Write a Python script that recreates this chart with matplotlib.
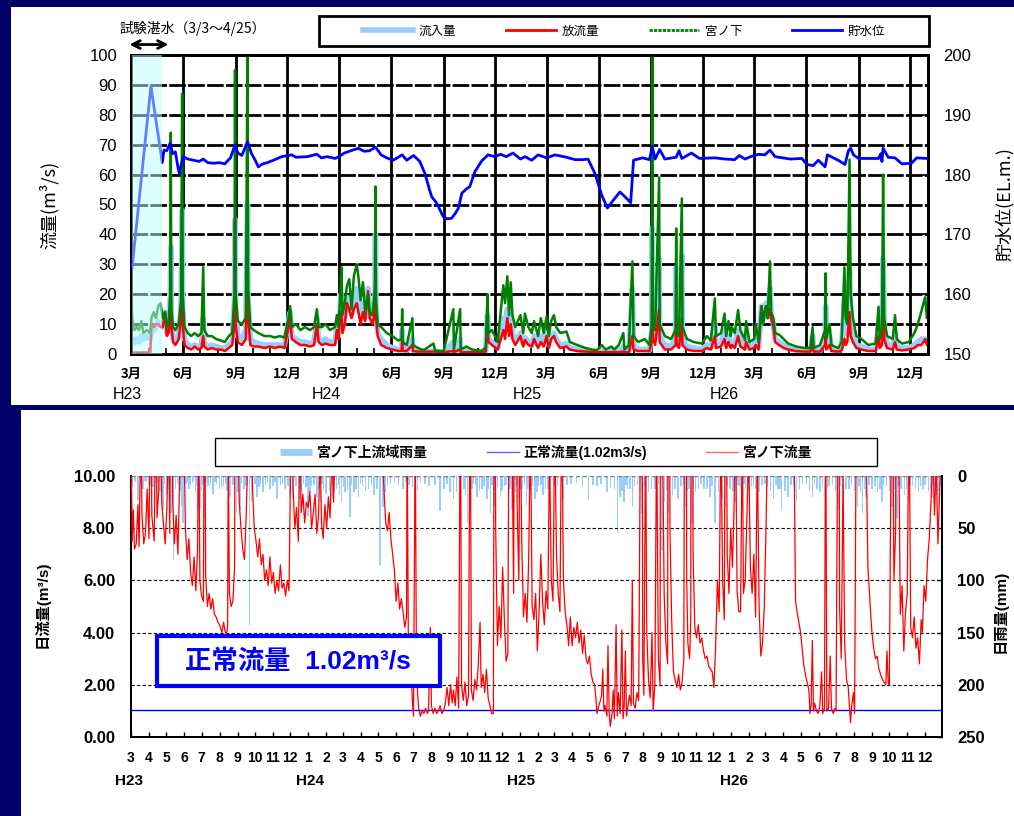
import numpy as np
import matplotlib
matplotlib.use("Agg")
import matplotlib.pyplot as plt
from matplotlib.lines import Line2D
from matplotlib.patches import Rectangle

plt.rcParams['font.family'] = ['Liberation Sans', 'Noto Sans CJK JP', 'DejaVu Sans']
JP = ['Noto Sans CJK JP', 'DejaVu Sans']
NARROW = ['Liberation Sans Narrow', 'Liberation Sans', 'DejaVu Sans']

# ---------------------------------------------------------------- data
# day numbers count from 2011-03-01 (H23)
BASE = np.datetime64('2011-03-01')

# reservoir flows (m3/s): 宮ノ下 gauge, 放流量 (release), 流入量 (inflow)
flow_day = [
    0, 2, 6, 10, 14, 18, 22, 28, 34, 36,
    40, 44, 48, 52, 56, 60, 63, 66, 69, 70,
    71, 74, 78, 84, 88, 90, 91, 94, 100, 106,
    112, 118, 124, 127, 129, 135, 142, 150, 158, 165,
    172, 178, 182, 183, 184, 188, 195, 202, 205, 206,
    210, 216, 224, 235, 245, 253, 262, 270, 277, 280,
    283, 290, 298, 306, 315, 322, 327, 330, 336, 342,
    350, 359,
    362, 365, 368, 370, 372, 376, 380, 384, 388, 392,
    397, 400, 404, 408, 412, 417, 420, 425, 429, 430,
    431, 434, 440, 450, 460, 470, 476, 477, 478, 485,
    495, 496, 505, 515, 532, 535, 550, 567, 568, 579,
    580, 590, 600, 615, 624, 627, 629, 635, 645, 655,
    658, 662, 665, 668, 671, 676, 685, 690,
    693, 699, 705, 709, 716, 721, 726, 731, 735, 739,
    744, 748, 755, 766, 772, 785, 800, 810, 820, 828,
    835, 845, 850, 858, 866, 868, 876, 882, 884, 892,
    904, 912, 916, 917, 918, 922, 929, 930, 939, 950,
    958, 959, 960, 964, 969, 970, 978, 990, 1004, 1013,
    1020, 1027, 1029, 1038, 1044, 1047, 1051, 1055,
    1057, 1062, 1068, 1072, 1080, 1082, 1088, 1096, 1099, 1104,
    1109, 1112, 1117, 1120, 1124, 1126, 1130, 1133, 1140, 1148,
    1156, 1170, 1185, 1195, 1199, 1201, 1212, 1221, 1222, 1223,
    1229, 1232, 1244, 1250, 1255, 1257, 1260, 1264, 1266, 1270,
    1276, 1285, 1297, 1310, 1315, 1317, 1321, 1323, 1325, 1330,
    1340, 1344, 1347, 1356, 1368, 1378, 1384, 1390, 1394, 1397,
    1400, 1402,
]
miyanoshita = [
    28, 12, 8, 9, 8, 11, 7, 8, 7, 12,
    14, 12, 16, 17, 12, 14, 9, 10, 20, 74,
    15, 9, 8, 10, 18, 87, 20, 9, 7, 6,
    7, 6, 7, 29, 8, 6, 6, 5, 4.5, 4,
    6, 7, 20, 95, 20, 11, 10, 12, 105, 22,
    9, 8, 7, 6, 6, 5.5, 6, 5.5, 12, 16,
    9, 10, 8, 9, 8, 9, 15, 9, 9, 10,
    8, 9,
    13, 9, 19, 29, 13, 17, 23, 25, 15, 26,
    30, 26, 18, 24, 14, 20, 14, 13, 22, 56,
    18, 10, 9, 7, 6, 4.5, 5, 15, 4, 3,
    12, 3, 2, 1.3, 3.5, 1.2, 1, 15, 1.5, 15,
    1.5, 2.5, 1.5, 1, 2, 20, 7, 8, 4, 23,
    17, 26, 13, 24, 13, 9, 13, 7,
    13.5, 9, 7, 11, 6, 12, 7, 12.5, 6, 11,
    13, 9, 7, 7.5, 4, 3, 2, 1.5, 1.3, 3,
    1.5, 2.5, 1.5, 3, 7, 1.5, 3, 31, 6, 4,
    5, 3, 10, 105, 12, 8, 59, 10, 6, 5,
    8, 42, 8, 6, 52, 9, 5, 4, 3.5, 6,
    4.5, 18.6, 6, 7, 13.5, 6, 11, 6,
    9, 7, 14.7, 8, 4.7, 11, 4, 5, 10, 4,
    16, 10, 16, 12, 31, 14, 12, 7, 6.5, 5,
    3.5, 2.5, 2, 2, 9, 2, 3, 8, 27, 5,
    10, 3, 2, 4, 29, 12, 10, 65, 20, 12,
    6, 5, 3, 3.5, 15.8, 5, 8, 60, 12, 6,
    5, 13, 5, 3.5, 4, 7, 10, 14, 17, 19,
    12, 13,
]
outflow = [
    0.5, 0.5, 0.5, 0.5, 0.5, 0.5, 0.5, 0.5, 0.5, 10,
    9, 10, 10, 9, 9, 14, 6, 7, 12, 20,
    9, 4, 3, 5, 12, 20, 10, 3, 2, 1.5,
    2.5, 1.5, 2, 6, 2.5, 1.5, 2, 1.5, 1.5, 1,
    2, 3, 10, 45, 10, 4, 3, 5, 40, 12,
    3, 2.5, 2.5, 2, 2.5, 2, 2.5, 2, 9, 12,
    5, 4, 3, 3, 2.5, 3, 10, 4, 3, 3.5,
    3, 3,
    8, 5, 14, 14, 7, 10, 17, 15, 12, 15,
    17, 14, 10, 14, 11, 21, 12, 10, 14, 34,
    12, 6, 3, 2, 1.5, 1, 1, 5, 1, 1,
    3, 1, 0.8, 0.8, 0.8, 0.8, 0.6, 1, 0.6, 1.5,
    0.6, 0.6, 0.6, 0.6, 0.8, 10, 4, 3, 1.5, 8,
    5, 12, 6, 10, 5, 3, 6, 2.5,
    4.7, 3, 2.5, 5, 2, 4, 2.5, 6, 2, 5,
    6, 4, 2, 2.5, 1.5, 1, 0.8, 0.7, 0.6, 0.6,
    0.6, 0.6, 0.6, 0.6, 0.8, 0.6, 0.6, 6, 1.5, 1,
    1, 1, 4, 18, 5, 3, 15, 4, 1.5, 1.5,
    3, 11, 3, 2, 12, 3, 1.5, 1, 1, 2,
    1.5, 6, 2, 2.5, 5, 2, 4, 2,
    3, 2, 6, 2.5, 1.5, 4, 1.5, 2, 3, 1.5,
    16, 12, 16, 12, 15, 12, 9, 4, 3, 2,
    1.5, 1, 0.8, 0.8, 3, 0.8, 0.8, 3, 6, 1.5,
    3, 1, 0.8, 1.2, 5, 3, 4, 14, 6, 4,
    2, 1.5, 1, 1, 6, 2, 3, 26, 5, 2,
    1.5, 4, 1.5, 1.2, 1.5, 2, 3, 3, 4, 5,
    3, 3.5,
]
inflow = [
    6, 5, 4, 5, 4, 6, 5, 6, 5, 9,
    8, 9, 11, 10, 9, 14, 7, 8, 18, 36,
    12, 5, 4, 6, 16, 48, 16, 5, 3, 2.5,
    3, 2.5, 3, 12, 3.5, 2.5, 3, 2.5, 2, 2,
    3, 4, 18, 45, 15, 6, 5, 8, 50, 18,
    5, 4, 3.5, 3, 3, 3, 3, 3, 11, 14,
    6, 5, 4, 4, 3.5, 4, 12, 5, 4, 5,
    4, 4,
    9, 6, 16, 20, 9, 12, 19, 18, 13, 20,
    22, 19, 13, 17, 12, 22, 13, 11, 18, 40,
    14, 7, 5, 3, 2, 1.5, 1.5, 8, 1.5, 1.2,
    5, 1.2, 1, 0.5, 1, 0.5, 0.4, 4, 0.5, 5,
    0.5, 1, 0.5, 0.4, 1, 13, 5, 4, 2, 12,
    8, 15, 8, 13, 7, 4, 7, 3.5,
    5.5, 4, 3, 6, 3, 6, 3.5, 7, 3, 6,
    7, 5, 3, 3.5, 2, 1.5, 1, 0.8, 0.6, 1,
    0.6, 1, 0.6, 1, 2.5, 0.6, 1, 22, 3, 1.5,
    1.5, 1.2, 8, 42, 8, 5, 32, 6, 3, 2.5,
    5, 29, 5, 3, 33, 5, 2.5, 2, 1.5, 3,
    2, 10, 3, 3.5, 8, 3, 6, 3,
    4, 3, 8, 4, 2, 6, 2, 3, 5, 2,
    16, 12, 17, 13, 22, 13, 10, 5, 4, 3,
    2, 1.2, 1, 1, 6, 1, 1.2, 5, 16, 3,
    6, 1.5, 1, 2, 18, 7, 7, 28, 12, 6,
    3, 2.5, 1.5, 1.5, 10, 3, 5, 32, 8, 3,
    2.5, 7, 2.5, 2, 2, 3, 4, 5, 5, 5,
    4.5, 4.5,
]

# reservoir water level (EL.m.)
level_day = [
    2, 35, 55, 58, 63, 69, 73, 78, 83, 85,
    88, 92, 100, 110, 120, 127, 135, 145, 155, 165,
    175, 183, 188, 195, 205, 212, 218, 224, 232, 240,
    253, 265, 283, 290, 310, 327, 335, 345, 359, 366,
    375, 390, 400, 410, 420, 430, 440, 450, 461, 470,
    477, 485, 497, 508, 517, 525, 529, 538, 549, 556,
    564, 571, 576, 582, 590, 596, 605, 617, 628, 640,
    650, 660, 672, 685, 693, 705, 716, 731, 746, 766,
    781, 795, 804, 816, 828, 838, 845, 860, 870, 879,
    884, 900, 912, 917, 922, 930, 939, 959, 964, 969,
    986, 1000, 1027, 1045, 1062, 1070, 1080, 1090, 1104, 1115,
    1124, 1133, 1160, 1180, 1189, 1200, 1209, 1221, 1225, 1244,
    1256, 1262, 1266, 1271, 1280, 1315, 1319, 1321, 1323, 1332,
    1344, 1356, 1373, 1382, 1400,
]
level = [
    164.5, 194.8, 182.0, 184.1, 184.0, 185.3, 183.5, 183.8, 181.0, 180.2,
    181.5, 183.0, 182.6, 182.4, 182.2, 182.6, 182.0, 181.9, 182.0, 181.8,
    182.8, 185.0, 183.6, 183.2, 185.5, 183.5, 182.5, 181.3, 181.8, 182.0,
    182.5, 183.0, 183.3, 182.9, 183.0, 183.4, 182.8, 183.0, 182.7, 183.0,
    183.6, 184.1, 184.4, 183.9, 184.0, 184.6, 183.3, 182.8, 182.4, 182.9,
    183.3, 182.4, 183.2, 182.2, 180.2, 177.5, 176.3, 175.2, 173.0, 172.6,
    172.7, 173.6, 174.4, 176.9, 177.6, 178.0, 180.5, 182.3, 183.3, 183.0,
    183.4, 183.0, 183.6, 182.6, 183.0, 182.4, 183.3, 182.8, 183.3, 182.9,
    182.5, 182.5, 182.6, 180.2, 176.6, 174.4, 175.3, 177.1, 176.2, 175.3,
    182.4, 182.8, 182.5, 184.7, 182.6, 184.2, 182.6, 182.9, 184.0, 182.7,
    183.6, 182.7, 182.8, 182.6, 182.5, 183.2, 182.6, 183.0, 183.4, 183.3,
    184.1, 183.0, 182.6, 182.7, 181.7, 181.5, 182.4, 181.3, 183.3, 182.4,
    181.7, 184.0, 184.4, 183.3, 182.7, 182.7, 183.5, 182.2, 184.4, 182.9,
    182.8, 181.8, 181.9, 182.8, 182.7,
]

# 宮ノ下 daily flow (m3/s) as (day, value)
daily_flow = [
    (0, 12), (2, 7.5), (4, 8.7), (6, 7.2), (9, 7.4), (12, 8.9), (14, 7.3), (17, 12),
    (19, 8.5), (22, 7.4), (25, 7.8), (28, 9.5), (31, 7.6), (34, 14), (36, 8.5), (40, 7.5),
    (43, 13), (45, 8.4), (48, 9.5), (51, 15), (53, 9.0), (56, 8.2), (59, 7.4), (62, 8.8),
    (65, 12), (67, 7.8), (70, 30), (72, 9), (75, 7.4), (78, 8.5), (81, 7.0), (84, 9.8),
    (87, 16), (89, 30), (91, 12), (94, 8.0), (97, 6.8), (100, 7.6), (103, 6.3), (106, 5.8),
    (109, 6.9), (112, 5.6), (115, 7.2), (117, 12), (119, 6.0), (122, 5.4), (125, 5.2), (127, 15),
    (129, 6.2), (132, 5.0), (135, 5.5), (138, 4.9), (141, 5.3), (144, 4.7), (147, 4.6), (150, 4.4),
    (153, 4.3), (157, 4.0), (160, 4.4), (162, 4.1), (165, 3.9), (167, 4.3), (168, 11), (170, 5.5),
    (173, 5.0), (176, 5.2), (179, 6.5), (182, 40), (184, 12), (187, 9), (190, 8), (193, 7.2),
    (196, 6.8), (199, 8.5), (202, 11), (205, 60), (207, 14), (210, 9.5), (213, 8.0), (216, 7.5),
    (219, 6.9), (222, 7.6), (225, 6.6), (228, 7.0), (231, 6.0), (234, 6.4), (237, 5.8), (240, 6.9),
    (243, 5.9), (246, 6.3), (249, 5.5), (252, 6.0), (255, 5.6), (258, 6.6), (261, 5.7), (264, 5.9),
    (267, 5.4), (270, 6.0), (273, 5.6), (276, 11), (278, 14), (280, 9.5), (283, 8.0), (286, 8.8),
    (289, 7.5), (292, 12), (294, 8.6), (297, 9.3), (300, 8.2), (303, 9.0),
    (306, 8.8), (309, 9.4), (312, 8.0), (315, 8.6), (318, 9.3), (321, 7.8), (324, 8.5), (327, 11),
    (329, 8.2), (332, 7.6), (335, 8.9), (338, 8.0), (341, 9.2), (344, 8.4), (347, 11), (350, 9.0),
    (353, 12), (356, 10.5), (359, 12), (365, 14), (370, 25), (380, 20), (390, 18), (397, 28),
    (405, 16), (415, 18), (425, 12), (430, 50), (434, 11), (437, 9.5), (440, 8.2), (443, 7.9),
    (446, 8.6), (449, 7.6), (452, 7.0), (455, 6.4), (458, 5.2), (461, 5.9), (464, 4.9), (467, 5.3),
    (470, 4.8), (473, 4.2), (476, 4.6), (477, 12), (479, 4.0), (482, 3.6), (484, 2.6), (486, 1.4),
    (488, 0.8), (491, 12), (493, 3.0), (495, 1.7), (497, 1.1), (500, 0.8), (503, 1.0), (506, 0.9),
    (509, 1.1), (512, 0.9), (514, 1.0), (517, 4.2), (519, 1.2), (522, 0.9), (525, 1.1), (528, 0.9),
    (531, 1.0), (534, 1.2), (537, 0.9), (540, 1.0), (543, 1.3), (546, 1.9), (549, 1.2), (552, 2.0),
    (555, 1.3), (557, 1.8), (560, 1.2), (563, 2.3), (566, 1.1), (569, 14), (571, 2.0), (574, 1.4),
    (577, 2.1), (580, 1.2), (583, 1.6), (586, 15), (588, 1.8), (591, 1.4), (594, 2.2), (597, 1.8),
    (600, 2.8), (603, 4.4), (605, 1.9), (608, 2.4), (611, 1.7), (614, 2.6), (617, 1.5), (620, 1.2),
    (623, 0.9), (626, 0.9), (628, 20), (630, 8), (633, 3.5), (636, 5.0), (639, 3.8), (642, 6.5),
    (645, 4.5), (648, 2.9), (651, 3.2), (655, 23), (658, 12), (661, 5.5), (664, 26), (667, 9),
    (670, 6),
    (672, 13), (675, 7.5), (678, 4.6), (681, 5.5), (684, 4.4), (687, 6.8), (690, 12), (693, 5.0),
    (696, 4.5), (699, 5.5), (702, 3.3), (705, 4.8), (708, 7), (711, 5.2), (714, 4.3), (717, 5.6),
    (720, 4.9), (723, 11), (726, 6.0), (729, 5.2), (732, 12), (735, 7), (738, 5.5), (741, 4.8),
    (744, 13), (747, 6), (750, 4.8), (753, 4.3), (756, 3.5), (759, 4.6), (762, 3.5), (765, 4.2),
    (768, 3.8), (771, 4.4), (774, 3.6), (777, 4.1), (780, 3.2), (783, 3.9), (786, 3.0), (789, 2.8),
    (792, 3.1), (795, 2.4), (798, 2.1), (801, 2.0), (803, 1.5), (805, 0.9), (808, 1.2), (811, 1.4),
    (813, 1.6), (815, 2.6), (817, 1.0), (819, 1.2), (822, 0.8), (824, 3.5), (826, 1.0), (828, 0.4),
    (831, 0.9), (833, 1.8), (835, 0.7), (838, 4.3), (840, 0.8), (842, 1.7), (845, 0.9), (848, 4.1),
    (850, 0.7), (852, 1.2), (854, 3.3), (856, 0.8), (858, 1.1), (861, 1.6), (864, 1.2), (866, 6),
    (868, 1.3), (871, 1.1), (874, 1.7), (877, 1.4), (880, 12), (882, 30), (884, 3.0), (886, 1.6),
    (889, 12), (891, 4), (894, 2.2), (897, 1.5), (900, 4.0), (902, 1.0), (905, 2.0), (908, 12),
    (911, 3), (914, 2), (917, 60), (919, 10), (921, 5.5), (924, 3.6), (927, 2.8), (929, 40),
    (931, 8), (934, 4.5), (937, 2.5), (940, 2.2), (943, 1.9), (946, 2.4), (949, 1.8), (952, 2.1),
    (955, 3.0), (958, 30), (960, 6), (962, 3.6), (965, 3.0), (967, 4.5), (969, 45), (971, 7),
    (974, 4.2), (977, 3.8), (980, 4.3), (983, 3.6), (986, 3.8), (989, 3.3), (992, 3.0), (995, 3.1),
    (998, 2.7), (1001, 2.6), (1004, 2.5), (1007, 1.9), (1010, 3.5), (1013, 6), (1016, 4.8), (1019, 12),
    (1022, 6), (1025, 4.5), (1027, 18), (1030, 7), (1033, 5.5), (1036, 8),
    (1039, 6.5), (1042, 9.0), (1044, 13), (1047, 5.6), (1050, 4.8), (1053, 4.8), (1056, 12), (1058, 5.5),
    (1061, 6.0), (1064, 8.5), (1067, 11), (1070, 6.5), (1073, 5.5), (1076, 7.0), (1079, 4.6), (1082, 11),
    (1085, 5.0), (1088, 3.1), (1091, 3.6), (1094, 5.0), (1097, 8), (1100, 12), (1105, 11), (1110, 16),
    (1117, 17), (1124, 30), (1130, 14), (1135, 11), (1140, 10.5), (1145, 12), (1148, 5.2), (1152, 4.6),
    (1156, 4.1), (1159, 3.5), (1162, 2.8), (1165, 2.4), (1169, 2.0), (1171, 1.8), (1173, 0.9), (1175, 1.2),
    (1177, 3.7), (1179, 1.0), (1181, 1.3), (1184, 1.0), (1187, 0.9), (1190, 1.2), (1193, 2.5), (1195, 0.9),
    (1198, 1.1), (1200, 14), (1202, 1.0), (1205, 1.1), (1208, 3.1), (1210, 1.1), (1213, 0.9), (1216, 1.1),
    (1218, 1.0), (1220, 9), (1222, 27), (1224, 5), (1227, 3), (1230, 10), (1233, 3.5), (1236, 2.2),
    (1239, 1.9), (1241, 1.2), (1243, 0.55), (1245, 1.2), (1248, 1.7), (1250, 0.9), (1253, 13), (1255, 29),
    (1258, 12), (1261, 10), (1264, 65), (1267, 20), (1270, 11), (1273, 6.5), (1277, 5), (1280, 4.0),
    (1283, 3.4), (1286, 3.0), (1289, 3.1), (1292, 2.6), (1295, 2.4), (1298, 2.2), (1301, 2.1), (1304, 2.0),
    (1306, 3.3), (1308, 2.1), (1310, 2.0), (1313, 11), (1315, 16), (1318, 6), (1321, 8), (1323, 60),
    (1326, 12), (1329, 4.7), (1332, 5.8), (1335, 3.3), (1338, 4.8), (1341, 5.5), (1344, 13), (1347, 4.2),
    (1350, 3.8), (1353, 4.6), (1356, 3.4), (1359, 3.8), (1362, 2.8), (1365, 4.5), (1367, 4.0), (1370, 5.8),
    (1373, 5.2), (1376, 6.8), (1379, 7.6), (1382, 9), (1385, 11), (1388, 8.5), (1391, 10.5), (1394, 7.4),
    (1397, 9.5), (1400, 12),
]

# 宮ノ下上流域 daily rainfall (mm) as (day, value)
daily_rain = [
    (3, 10), (6, 5), (8, 6), (12, 23), (16, 8), (21, 12), (24, 5), (27, 6), (30, 8), (33, 9),
    (38, 11), (41, 17), (45, 7), (47, 6), (50, 14), (53, 9), (55, 33), (58, 8), (62, 17), (64, 12),
    (66, 10), (69, 35), (71, 20), (73, 80), (77, 12), (80, 7), (82, 9), (85, 14), (88, 30), (90, 45),
    (92, 11), (95, 8), (97, 6), (100, 12), (103, 9), (106, 7), (108, 5), (111, 15), (113, 10), (115, 33),
    (119, 31), (121, 14), (124, 9), (127, 40), (130, 7), (133, 10), (137, 9), (142, 17), (145, 6), (148, 8),
    (153, 12), (156, 11), (160, 10), (163, 8), (166, 14), (169, 6), (171, 20), (176, 9), (179, 12), (182, 35),
    (185, 15), (188, 33), (191, 7), (195, 12), (199, 10), (201, 9), (205, 143), (208, 25), (210, 18), (214, 8),
    (218, 20), (221, 11), (224, 8), (228, 15), (232, 9), (236, 6), (240, 12), (245, 10), (249, 6), (252, 22),
    (258, 9), (262, 8), (266, 12), (271, 10), (275, 18), (280, 20), (285, 10), (289, 12), (292, 22), (295, 14),
    (298, 8), (302, 11), (306, 38), (309, 15), (312, 10), (316, 9), (321, 20), (324, 13), (327, 25), (330, 8),
    (333, 12), (336, 16), (338, 18), (343, 14), (346, 10), (349, 22), (352, 14), (355, 12), (358, 9), (360, 18),
    (364, 25), (367, 11), (370, 15), (374, 13), (378, 39), (381, 9), (385, 15), (389, 12), (393, 20), (396, 8),
    (400, 10), (405, 14), (410, 12), (415, 9), (420, 18), (425, 12), (430, 85), (435, 30), (439, 15), (443, 10),
    (448, 8), (455, 6), (462, 9), (470, 12), (475, 6), (480, 9), (486, 11), (491, 28), (495, 14), (500, 6),
    (508, 8), (515, 10), (525, 9), (534, 34), (541, 12), (546, 8), (551, 15), (557, 22), (562, 15), (569, 25),
    (575, 12), (578, 18), (581, 45), (586, 30), (589, 12), (592, 8), (595, 9), (598, 20), (602, 14), (606, 12),
    (610, 10), (615, 22), (618, 12), (621, 35), (624, 9), (627, 28), (630, 15), (633, 11), (638, 20), (641, 14),
    (645, 10), (648, 9), (652, 25), (655, 12), (658, 33), (661, 18), (664, 15), (667, 10), (670, 20), (673, 14),
    (676, 12), (680, 9), (683, 28), (686, 12), (690, 14), (694, 10), (698, 22), (701, 15), (704, 10), (708, 9),
    (712, 18), (716, 12), (720, 12), (725, 8), (730, 10), (737, 10), (747, 22), (753, 9), (760, 8), (770, 7),
    (780, 10), (790, 23), (798, 9), (805, 10), (812, 8), (822, 15), (828, 11), (835, 12), (840, 55), (845, 20),
    (848, 14), (852, 25), (855, 9), (858, 12), (862, 12), (866, 30), (870, 10), (875, 9), (878, 15), (882, 35),
    (888, 10), (894, 15), (899, 12), (905, 12), (911, 8), (917, 71), (922, 25), (926, 14), (929, 35), (935, 18),
    (940, 12), (945, 22), (950, 10), (954, 9), (958, 30), (961, 14), (964, 12), (969, 45), (972, 10), (975, 15),
    (980, 12), (985, 8), (990, 12), (995, 12), (1000, 20), (1004, 10), (1009, 45), (1015, 15), (1018, 12), (1022, 22),
    (1027, 30), (1030, 9), (1035, 12), (1040, 14), (1044, 25), (1047, 9), (1050, 10), (1053, 12), (1056, 18), (1059, 8),
    (1062, 12), (1065, 15), (1068, 30), (1072, 10), (1075, 10), (1080, 12), (1085, 15), (1090, 9), (1095, 8), (1100, 10),
    (1105, 14), (1110, 22), (1114, 9), (1118, 12), (1121, 12), (1124, 33), (1130, 14), (1135, 20), (1140, 9), (1145, 10),
    (1150, 25), (1155, 12), (1160, 8), (1167, 9), (1172, 14), (1177, 20), (1181, 9), (1185, 12), (1190, 15), (1195, 10),
    (1200, 28), (1203, 12), (1206, 10), (1212, 9), (1217, 14), (1220, 25), (1222, 33), (1226, 10), (1230, 18), (1235, 12),
    (1240, 12), (1245, 9), (1250, 14), (1255, 30), (1258, 10), (1260, 15), (1264, 35), (1267, 12), (1270, 20), (1275, 9),
    (1280, 12), (1285, 10), (1290, 15), (1294, 12), (1297, 25), (1300, 9), (1305, 10), (1310, 14), (1315, 30), (1319, 12),
    (1323, 40), (1327, 10), (1330, 12), (1336, 18), (1340, 12), (1344, 25), (1347, 9), (1350, 10), (1355, 12), (1360, 15),
    (1364, 10), (1368, 12), (1372, 9), (1378, 14), (1381, 12), (1385, 20), (1389, 10), (1392, 18), (1395, 14), (1398, 10),
]

NORMAL_FLOW = 1.02
TEST_FILL = (2, 55)          # 試験湛水 3/3 - 4/25
YEAR_NAMES = ['H23', 'H24', 'H25', 'H26']


def to_dates(days):
    return BASE + np.array(days, dtype='timedelta64[D]')


months = np.arange(np.datetime64('2011-03'), np.datetime64('2015-01'),
                   dtype='datetime64[M]')
month_num = months.astype(int) % 12 + 1
month_days = months.astype('datetime64[D]')

# ---------------------------------------------------------------- figure
W, H = 1014, 816
fig = plt.figure(figsize=(W / 100, H / 100), dpi=100, facecolor='#000066')


def fbox(x0, y0, x1, y1):
    return [x0 / W, 1 - y1 / H, (x1 - x0) / W, (y1 - y0) / H]


for x0, y0, x1, y1 in [(11, 7, W, 405), (21, 410, W, H)]:
    b = fbox(x0, y0, x1, y1)
    fig.add_artist(Rectangle((b[0], b[1]), b[2], b[3], transform=fig.transFigure,
                             facecolor='white', edgecolor='none', zorder=-10))

# ---------------------------------------------------------------- upper chart
ax = fig.add_axes(fbox(131, 55, 928, 354))
ax2 = ax.twinx()
fd = to_dates(flow_day)
ax.plot(fd, inflow, color='#99ccff', lw=4, solid_joinstyle='round', zorder=3)
ax.plot(fd, outflow, color='#ff0000', lw=1.8, zorder=4)
ax.plot(fd, miyanoshita, color='#008000', lw=1.8, zorder=5)
ax2.plot(to_dates(level_day), level, color='#0000ff', lw=2, zorder=3)
ax2.axvspan(to_dates([TEST_FILL[0]])[0], to_dates([TEST_FILL[1]])[0],
            color='#bcffff', alpha=0.5, lw=0, zorder=10)

ax.set_xlim(BASE, np.datetime64('2015-01-01'))
ax.set_ylim(0, 100)
ax2.set_ylim(150, 200)

quarter = np.isin(month_num, [3, 6, 9, 12])
ax.set_xticks(month_days[quarter], [f'{m}月' for m in month_num[quarter]],
              fontsize=9.5, fontweight='bold', fontfamily=JP)
ax.set_xticks(month_days, minor=True)
ax.set_yticks(range(0, 101, 10), [str(v) for v in range(0, 101, 10)], fontsize=12)
ax2.set_yticks(range(150, 201, 10), [str(v) for v in range(150, 201, 10)], fontsize=12)
ax.tick_params(axis='x', which='both', direction='in', length=4, width=1.2, pad=9)
ax.tick_params(axis='y', direction='in', length=0, pad=10)
ax2.tick_params(axis='y', direction='in', length=4, width=1.2, pad=11)

ax.set_axisbelow(True)
ax.grid(axis='x', which='major', color='black', lw=2)
ax.grid(axis='y', which='major', color='black', lw=2, linestyle=(0, (6, 0.8)))
for a in (ax, ax2):
    for s in a.spines.values():
        s.set_linewidth(2)
        s.set_color('black')

ax.set_ylabel('流量(m³/s)', fontsize=13, fontfamily=JP)
ax.yaxis.set_label_coords(-0.09, 0.5)
ax2.set_ylabel('貯水位(EL.m.)', fontsize=13, fontfamily=JP)
ax2.yaxis.set_label_coords(1.084, 0.5)

for name, d in zip(YEAR_NAMES, ['2011-02-22', '2012-02-07', '2013-01-27', '2014-01-08']):
    ax.text(np.datetime64(d), -0.134, name, transform=ax.get_xaxis_transform(),
            ha='center', va='center', fontsize=11.5)

ax.text(0.078, 1.09, '試験湛水（3/3～4/25）', transform=ax.transAxes,
        ha='center', va='center', fontsize=10, fontfamily=JP)
ax.annotate('', xy=(-0.002, 1.035), xytext=(0.047, 1.035), xycoords='axes fraction',
            arrowprops=dict(arrowstyle='<->', lw=2, color='black',
                            shrinkA=0, shrinkB=0, mutation_scale=14))

lb = fbox(319, 16, 929, 46)
fig.add_artist(Rectangle((lb[0], lb[1]), lb[2], lb[3], transform=fig.transFigure,
                         facecolor='white', edgecolor='black', lw=2, zorder=5))
top_handles = [
    Line2D([], [], color='#99ccff', lw=4),
    Line2D([], [], color='#ff0000', lw=2),
    Line2D([], [], color='#008000', lw=2, linestyle=(0, (1.2, 0.4))),
    Line2D([], [], color='#0000ff', lw=2),
]
leg = fig.legend(top_handles, ['流入量', '放流量', '宮ノ下', '貯水位'], ncol=4,
                 loc='center', bbox_to_anchor=(lb[0] + lb[2] / 2, lb[1] + lb[3] / 2),
                 frameon=False, handlelength=4, handletextpad=0.45, columnspacing=4.0,
                 prop={'family': JP, 'size': 9})
leg.set_zorder(6)

# ---------------------------------------------------------------- lower chart
axb = fig.add_axes(fbox(131, 476, 942, 737))
axr = axb.twinx()
axb.set_zorder(axr.get_zorder() + 1)
axb.patch.set_visible(False)

rd, rv = zip(*daily_rain)
axr.bar(to_dates(rd), rv, width=2.5, color='#99ccff', lw=0, align='center')
axr.set_ylim(250, 0)

bd, bv = zip(*daily_flow)
axb.plot(to_dates(bd), bv, color='#ff0000', lw=0.9, zorder=3)
axb.axhline(NORMAL_FLOW, color='#0000ff', lw=1, zorder=2)

axb.set_xlim(BASE, np.datetime64('2014-12-31'))
axb.set_ylim(0, 10)
axb.set_xticks(month_days, [str(m) for m in month_num],
               fontsize=10, fontweight='bold')
axb.set_yticks(range(0, 11, 2), [f'{v:.2f}' for v in range(0, 11, 2)],
               fontsize=12, fontweight='bold')
axr.set_yticks(range(0, 251, 50), [str(v) for v in range(0, 251, 50)],
               fontsize=12, fontweight='bold')
axb.tick_params(axis='x', direction='in', length=3.5, width=1, pad=10)
axb.tick_params(axis='y', direction='in', length=0, pad=11.5)
axr.tick_params(axis='y', direction='in', length=3.5, width=1, pad=11)

for v in range(2, 10, 2):
    axb.axhline(v, color='black', lw=0.8, linestyle=(0, (3, 2)), zorder=1)
axb.axhline(10, color='#808080', lw=1, linestyle=(0, (3, 2)), zorder=1)
for a in (axb, axr):
    a.spines['top'].set_visible(False)
    for k in ('left', 'right', 'bottom'):
        a.spines[k].set_linewidth(1.3)
        a.spines[k].set_color('black')

axb.set_ylabel('日流量(m³/s)', fontsize=11, fontweight='bold')
axb.yaxis.set_label_coords(-0.1, 0.51)
axr.set_ylabel('日雨量(mm)', fontsize=11, fontweight='bold')
axr.yaxis.set_label_coords(1.062, 0.48)

for name, d in zip(YEAR_NAMES, ['2011-02-26', '2012-01-04', '2013-01-03', '2014-01-06']):
    axb.text(np.datetime64(d), -0.169, name, transform=axb.get_xaxis_transform(),
             ha='center', va='center', fontsize=11, fontweight='bold', fontfamily=NARROW)

bb = fbox(215, 438, 877, 466)
fig.add_artist(Rectangle((bb[0], bb[1]), bb[2], bb[3], transform=fig.transFigure,
                         facecolor='white', edgecolor='black', lw=1, zorder=5))
bottom_handles = [
    Line2D([], [], color='#99ccff', lw=5, solid_capstyle='butt'),
    Line2D([], [], color='#6666ff', lw=1),
    Line2D([], [], color='#ff6666', lw=1),
]
leg2 = fig.legend(bottom_handles, ['宮ノ下上流域雨量', '正常流量(1.02m3/s)', '宮ノ下流量'],
                  ncol=3, loc='center',
                  bbox_to_anchor=(bb[0] + bb[2] / 2, bb[1] + bb[3] / 2),
                  frameon=False, handlelength=2.3, handletextpad=0.3, columnspacing=4.3,
                  prop={'size': 10, 'weight': 'bold'})
leg2.set_zorder(6)

nb = fbox(157, 636, 440, 686)
fig.add_artist(Rectangle((nb[0], nb[1]), nb[2], nb[3], transform=fig.transFigure,
                         facecolor='white', edgecolor='#0000ff', lw=3, zorder=7))
fig.text(298 / W, 1 - 661 / H, f'正常流量  {NORMAL_FLOW:.2f}m³/s', ha='center', va='center',
         fontsize=19, fontweight='bold', color='#0000ff', zorder=8)

fig.savefig('out.png', dpi=100, facecolor=fig.get_facecolor())
